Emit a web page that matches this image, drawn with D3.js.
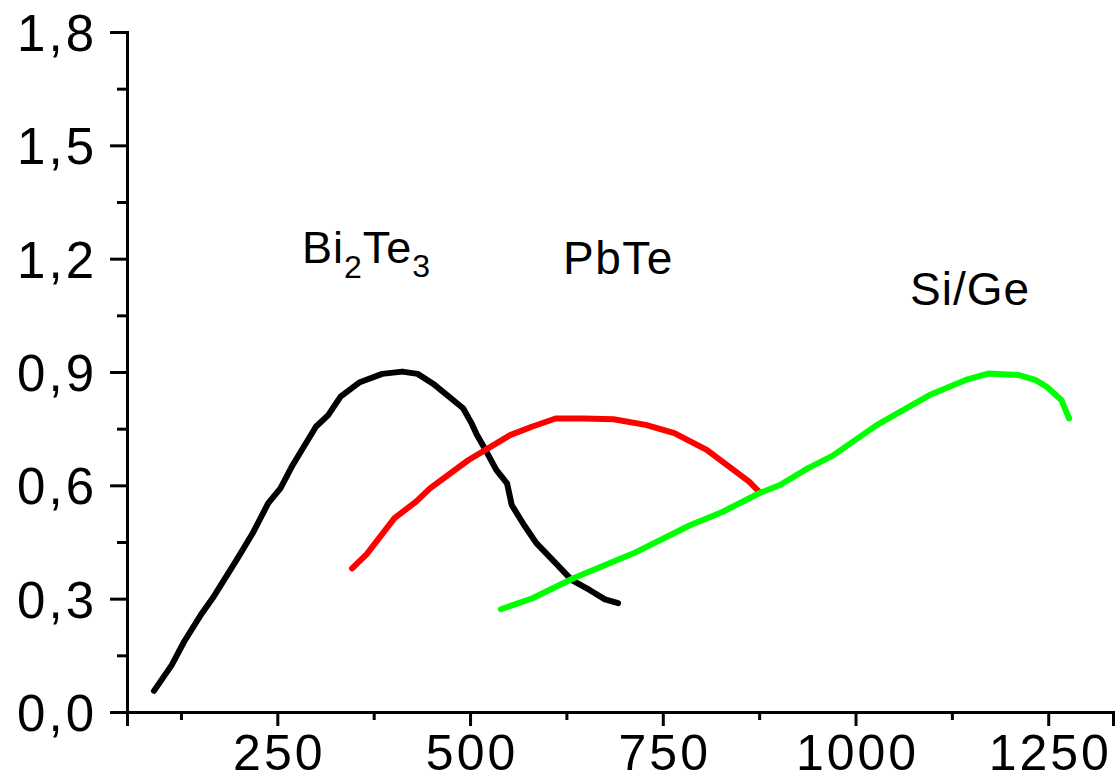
<!DOCTYPE html>
<html>
<head>
<meta charset="utf-8">
<script src="https://cdn.jsdelivr.net/npm/d3@7"></script>
<style>
  body { margin: 0; background: #fff; }
  text { font-family: "Liberation Sans", Arial, sans-serif; fill: #000; }
</style>
</head>
<body>
<div id="chart"></div>
<script>
// Bi2Te3 (black)
const bi2te3 = [
  [90, 0.056], [113, 0.124], [129, 0.186], [152, 0.261], [166, 0.301],
  [197, 0.402], [218, 0.473], [238, 0.552], [254, 0.592], [270, 0.654],
  [300, 0.755], [316, 0.786], [332, 0.835], [357, 0.873], [386, 0.895],
  [412, 0.901], [432, 0.895], [454, 0.866], [491, 0.804], [502, 0.764],
  [509, 0.733], [520, 0.694], [534, 0.641], [548, 0.605], [554, 0.548],
  [570, 0.495], [586, 0.447], [611, 0.394], [632, 0.349], [655, 0.323],
  [675, 0.298], [692, 0.288]
];
// PbTe (red)
const pbte = [
  [347, 0.380], [366, 0.418], [402, 0.513], [430, 0.557], [448, 0.592],
  [498, 0.667], [552, 0.733], [580, 0.755], [611, 0.777], [647, 0.777],
  [686, 0.775], [728, 0.760], [765, 0.738], [807, 0.694], [833, 0.654],
  [862, 0.610], [875, 0.583]
];
// Si/Ge (green)
const sige = [
  [540, 0.272], [581, 0.301], [634, 0.354], [712, 0.420], [786, 0.495],
  [828, 0.530], [875, 0.579], [902, 0.601], [938, 0.645], [970, 0.678],
  [1028, 0.760], [1096, 0.839], [1143, 0.879], [1172, 0.896], [1212, 0.892],
  [1233, 0.879], [1248, 0.861], [1267, 0.826], [1277, 0.777]
];

const xMajor = [250, 500, 750, 1000, 1250];
const xMinor = [125, 375, 625, 875, 1125];
const yMajor = [0, 0.3, 0.6, 0.9, 1.2, 1.5, 1.8];
const yMinor = [0.15, 0.45, 0.75, 1.05, 1.35, 1.65];

const margin = { top: 32, right: 2, bottom: 68, left: 127 },
      width = 1115 - margin.left - margin.right,
      height = 780 - margin.top - margin.bottom;

const svg = d3.select("#chart")
  .append("svg")
  .attr("width", 1115)
  .attr("height", 780)
  .append("g")
  .attr("transform", `translate(${margin.left},${margin.top})`);

const xScale = d3.scaleLinear().domain([55, 1334]).range([0, width]);
const yScale = d3.scaleLinear().domain([0, 1.8]).range([height, 0]);

const fmt = d => d3.format(".1f")(d).replace(".", ",");

// x axis
const xAxisG = svg.append("g").attr("transform", `translate(0,${height})`);
xAxisG.call(d3.axisBottom(xScale).tickValues(xMinor).tickSize(8).tickFormat(""));
xAxisG.call(g => g.append("g").call(d3.axisBottom(xScale).tickValues(xMajor).tickSize(14).tickPadding(8).tickFormat(d3.format("d"))));

// y axis
const yAxisG = svg.append("g");
yAxisG.call(d3.axisLeft(yScale).tickValues(yMinor).tickSize(10).tickFormat(""));
yAxisG.call(g => g.append("g").call(d3.axisLeft(yScale).tickValues(yMajor).tickSize(17).tickPadding(16).tickFormat(fmt)));

svg.selectAll(".domain").attr("stroke-width", 3).attr("stroke", "#000");
svg.selectAll(".tick line").attr("stroke-width", 3).attr("stroke", "#000");
svg.selectAll(".tick text")
  .style("font-size", "51px")
  .style("letter-spacing", "3px")
  .style("font-family", "'Liberation Sans', Arial, sans-serif");
xAxisG.selectAll(".tick text").style("font-size", "50px").attr("dy", "0.71em").attr("dx", "1.5px");
yAxisG.selectAll(".tick text").attr("dy", "0.36em").attr("dx", "3px");

// curves
const line = d3.line()
  .x(d => xScale(d[0]))
  .y(d => yScale(d[1]));

const series = [
  { name: "Bi2Te3", values: bi2te3, color: "#000000" },
  { name: "PbTe", values: pbte, color: "#ff0000" },
  { name: "Si/Ge", values: sige, color: "#00ff00" }
];

svg.selectAll(".curve")
  .data(series)
  .enter()
  .append("path")
  .attr("class", "curve")
  .attr("d", d => line(d.values))
  .attr("fill", "none")
  .attr("stroke", d => d.color)
  .attr("stroke-width", 6)
  .attr("stroke-linejoin", "round")
  .attr("stroke-linecap", "round");

// labels
const root = d3.select("svg");
const bi = root.append("text")
  .attr("x", 302)
  .attr("y", 263)
  .style("font-size", "45px")
  .style("letter-spacing", "1px");
bi.append("tspan").text("Bi");
bi.append("tspan").attr("dy", 15).style("font-size", "32px").text("2");
bi.append("tspan").attr("dy", -15).text("Te");
bi.append("tspan").attr("dy", 14).style("font-size", "32px").text("3");

root.append("text")
  .attr("x", 563)
  .attr("y", 274)
  .style("font-size", "46px")
  .style("letter-spacing", "1.5px")
  .text("PbTe");

root.append("text")
  .attr("x", 910)
  .attr("y", 305)
  .style("font-size", "46px")
  .style("letter-spacing", "1px")
  .text("Si/Ge");
</script>
</body>
</html>
